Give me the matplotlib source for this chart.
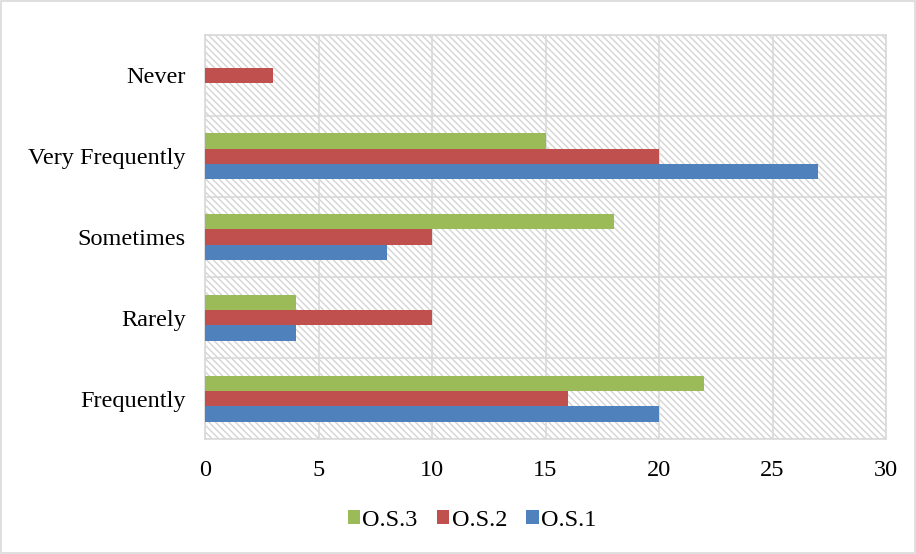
import matplotlib.pyplot as plt
from matplotlib.patches import Rectangle
import numpy as np

categories = ["Frequently", "Rarely", "Sometimes", "Very Frequently", "Never"]
os1 = [20, 4, 8, 27, 0]
os2 = [16, 10, 10, 20, 3]
os3 = [22, 4, 18, 15, 0]

plt.rcParams['font.family'] = ['Liberation Serif', 'DejaVu Serif']
plt.rcParams['hatch.color'] = '#d4d4d4'
plt.rcParams['hatch.linewidth'] = 1.0

fig = plt.figure(figsize=(9.16, 5.54), dpi=100)
ax = fig.add_axes([205/916, 1 - 439/554, 681/916, 404/554])

y = np.arange(len(categories))
h = 0.19
gridc = '#d9d9d9'

# hatched plot background
bg = Rectangle((0, 0), 1, 1, transform=ax.transAxes, facecolor='white',
               edgecolor='#d4d4d4', hatch='\\\\\\\\\\', linewidth=0, zorder=0)
ax.add_patch(bg)

ax.barh(y - h, os1, height=h, color='#4F81BD', label='O.S.1', zorder=3)
ax.barh(y, os2, height=h, color='#C0504D', label='O.S.2', zorder=3)
ax.barh(y + h, os3, height=h, color='#9BBB59', label='O.S.3', zorder=3)

ax.set_xlim(0, 30)
ax.set_ylim(-0.5, len(categories) - 0.5)
ax.set_xticks(range(0, 31, 5))
ax.set_yticks(y)
ax.set_yticklabels(categories)
ax.set_yticks(np.arange(-0.5, len(categories), 1), minor=True)

ax.grid(axis='x', which='major', color=gridc, linewidth=1.2, zorder=1)
ax.grid(axis='y', which='minor', color=gridc, linewidth=1.2, zorder=1)
ax.tick_params(axis='both', which='both', length=0, labelsize=17.5)
ax.tick_params(axis='x', pad=15)
ax.tick_params(axis='y', pad=14)
for s in ax.spines.values():
    s.set_color(gridc)
    s.set_linewidth(1.2)

handles, labels = ax.get_legend_handles_labels()
fig.legend(handles[::-1], labels[::-1], loc='center', bbox_to_anchor=(0.5 + 14/916, 1 - 520/554),
           ncol=3, frameon=False, fontsize=17.5, handlelength=0.5, handleheight=0.5,
           handletextpad=0.1, columnspacing=0.8)

fig.patches.append(Rectangle((0.001, 0.001), 0.998, 0.998, transform=fig.transFigure,
                             fill=False, edgecolor=gridc, linewidth=1.2))

fig.savefig('out.png', dpi=100)
